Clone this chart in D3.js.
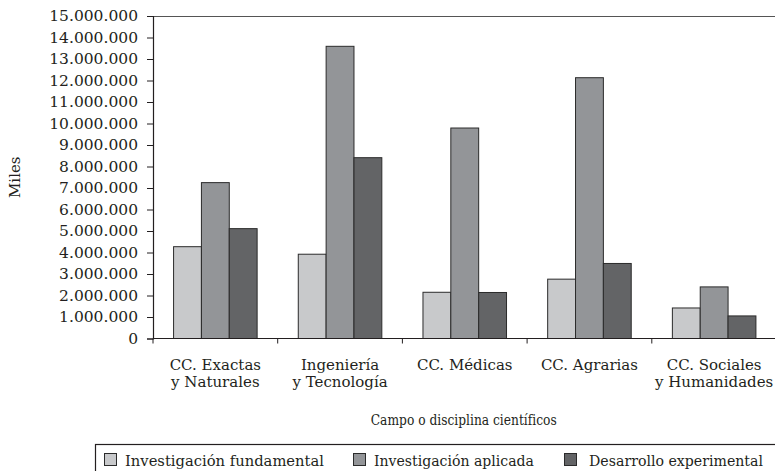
<!DOCTYPE html>
<html lang="es">
<head>
<meta charset="UTF-8" />
<script src="https://d3js.org/d3.v7.min.js"></script>
<style>
  body { margin: 0; background: #fff; }
</style>
</head>
<body>
<div id="chart"></div>
<script>
// data (values in miles)
var categories = ["CC. Exactas|y Naturales", "Ingeniería|y Tecnología", "CC. Médicas", "CC. Agrarias", "CC. Sociales|y Humanidades"];
var seriesNames = ["Investigación fundamental", "Investigación aplicada", "Desarrollo experimental"];
var fundamental = [4270000, 3920000, 2150000, 2760000, 1420000];
var aplicada = [7250000, 13590000, 9790000, 12130000, 2400000];
var desarrollo = [5110000, 8410000, 2140000, 3490000, 1050000];
var yTicks = [0, 1000000, 2000000, 3000000, 4000000, 5000000, 6000000, 7000000, 8000000,
  9000000, 10000000, 11000000, 12000000, 13000000, 14000000, 15000000];
var colors = ["#c8c9cb", "#939598", "#636466"];

var series = [fundamental, aplicada, desarrollo];
var FONT = "'DejaVu Serif', serif";
var FS = "15px";

var width = 775, height = 471;
var margin = {top: 16, left: 153, right: -1.5, bottom: 132.5};
var innerW = width - margin.left - margin.right;
var innerH = height - margin.top - margin.bottom;

var svg = d3.select("#chart").append("svg")
  .attr("width", width)
  .attr("height", height)
  .style("font-family", FONT);

var g = svg.append("g")
  .attr("transform", "translate(" + margin.left + "," + margin.top + ")");

var x0 = d3.scaleBand()
  .domain(categories)
  .range([0, innerW])
  .paddingInner(0)
  .paddingOuter(0);

// bars fill the middle two thirds of each band
var groupW = x0.bandwidth() * 0.67;
var x1 = d3.scaleBand()
  .domain([0, 1, 2])
  .range([(x0.bandwidth() - groupW) / 2, (x0.bandwidth() + groupW) / 2]);

var y = d3.scaleLinear()
  .domain([0, 15000000])
  .range([innerH, 0]);

var es = d3.formatLocale({decimal: ",", thousands: ".", grouping: [3], currency: ["", ""]});
var fmt = es.format(",");

// top frame line
g.append("line")
  .attr("x1", 0).attr("x2", innerW)
  .attr("y1", 0.5).attr("y2", 0.5)
  .attr("stroke", "#555").attr("stroke-width", 1.2);

// bars
var groups = g.selectAll(".cat")
  .data(categories)
  .enter().append("g")
  .attr("transform", function(d) { return "translate(" + x0(d) + ",0)"; });

groups.selectAll("rect")
  .data(function(d, i) { return series.map(function(s, k) { return {k: k, v: s[i]}; }); })
  .enter().append("rect")
  .attr("x", function(d) { return x1(d.k); })
  .attr("width", x1.bandwidth())
  .attr("y", function(d) { return y(d.v); })
  .attr("height", function(d) { return innerH - y(d.v); })
  .attr("fill", function(d) { return colors[d.k]; })
  .attr("stroke", "#2b2b2b")
  .attr("stroke-width", 1);

// y axis
var yAxis = g.append("g")
  .call(d3.axisLeft(y).tickValues(yTicks).tickFormat(fmt).tickSize(6).tickPadding(9));
yAxis.select(".domain").attr("stroke", "#231f20").attr("stroke-width", 1.2);
yAxis.selectAll(".tick line").attr("stroke", "#231f20");
yAxis.selectAll("text")
  .style("font-family", FONT)
  .style("font-size", "15.5px")
  .attr("fill", "#231f20");

// x axis: ticks at band boundaries
var xAxis = g.append("g")
  .attr("transform", "translate(0," + innerH + ")");
xAxis.append("line")
  .attr("x1", 0).attr("x2", innerW)
  .attr("stroke", "#231f20").attr("stroke-width", 1.2);
xAxis.selectAll(".bt")
  .data(categories)
  .enter().append("line")
  .attr("x1", function(d) { return x0(d); })
  .attr("x2", function(d) { return x0(d); })
  .attr("y1", 0).attr("y2", 5)
  .attr("stroke", "#231f20");

// category labels, one text per line
var lines = [];
categories.forEach(function(c) {
  c.split("|").forEach(function(t, i) { lines.push({c: c, t: t, i: i}); });
});
xAxis.selectAll(".lbl")
  .data(lines)
  .enter().append("text")
  .attr("text-anchor", "middle")
  .attr("x", function(d) { return x0(d.c) + x0.bandwidth() / 2; })
  .attr("y", function(d) { return 31 + d.i * 17.5; })
  .attr("fill", "#231f20")
  .style("font-family", FONT)
  .style("font-size", FS)
  .text(function(d) { return d.t; });

// axis titles
g.append("text")
  .attr("text-anchor", "middle")
  .attr("x", innerW / 2 - 1)
  .attr("y", innerH + 86)
  .attr("fill", "#231f20")
  .attr("textLength", 186)
  .attr("lengthAdjust", "spacingAndGlyphs")
  .style("font-family", FONT)
  .style("font-size", FS)
  .text("Campo o disciplina científicos");

svg.append("text")
  .attr("text-anchor", "middle")
  .attr("transform", "translate(20," + (margin.top + innerH / 2) + ") rotate(-90)")
  .attr("fill", "#231f20")
  .style("font-family", FONT)
  .style("font-size", FS)
  .text("Miles");

// legend box
var legend = svg.append("g");
legend.append("rect")
  .attr("x", 95.5).attr("y", 444.5)
  .attr("width", 700).attr("height", 60)
  .attr("fill", "none")
  .attr("stroke", "#231f20").attr("stroke-width", 1.2);

var legendX = [104, 353, 564];
var legendW = [199, 160, 174];
var items = legend.selectAll(".li")
  .data(seriesNames)
  .enter().append("g")
  .attr("transform", function(d, i) { return "translate(" + legendX[i] + ",453)"; });
items.append("rect")
  .attr("x", 0.5).attr("y", 0.5)
  .attr("width", 12).attr("height", 12)
  .attr("fill", function(d, i) { return colors[i]; })
  .attr("stroke", "#2b2b2b");
items.append("text")
  .attr("x", function(d, i) { return i === 2 ? 25 : 21; })
  .attr("y", 13)
  .attr("fill", "#231f20")
  .attr("textLength", function(d, i) { return legendW[i]; })
  .attr("lengthAdjust", "spacingAndGlyphs")
  .style("font-family", FONT)
  .style("font-size", FS)
  .text(function(d) { return d; });
</script>
</body>
</html>
